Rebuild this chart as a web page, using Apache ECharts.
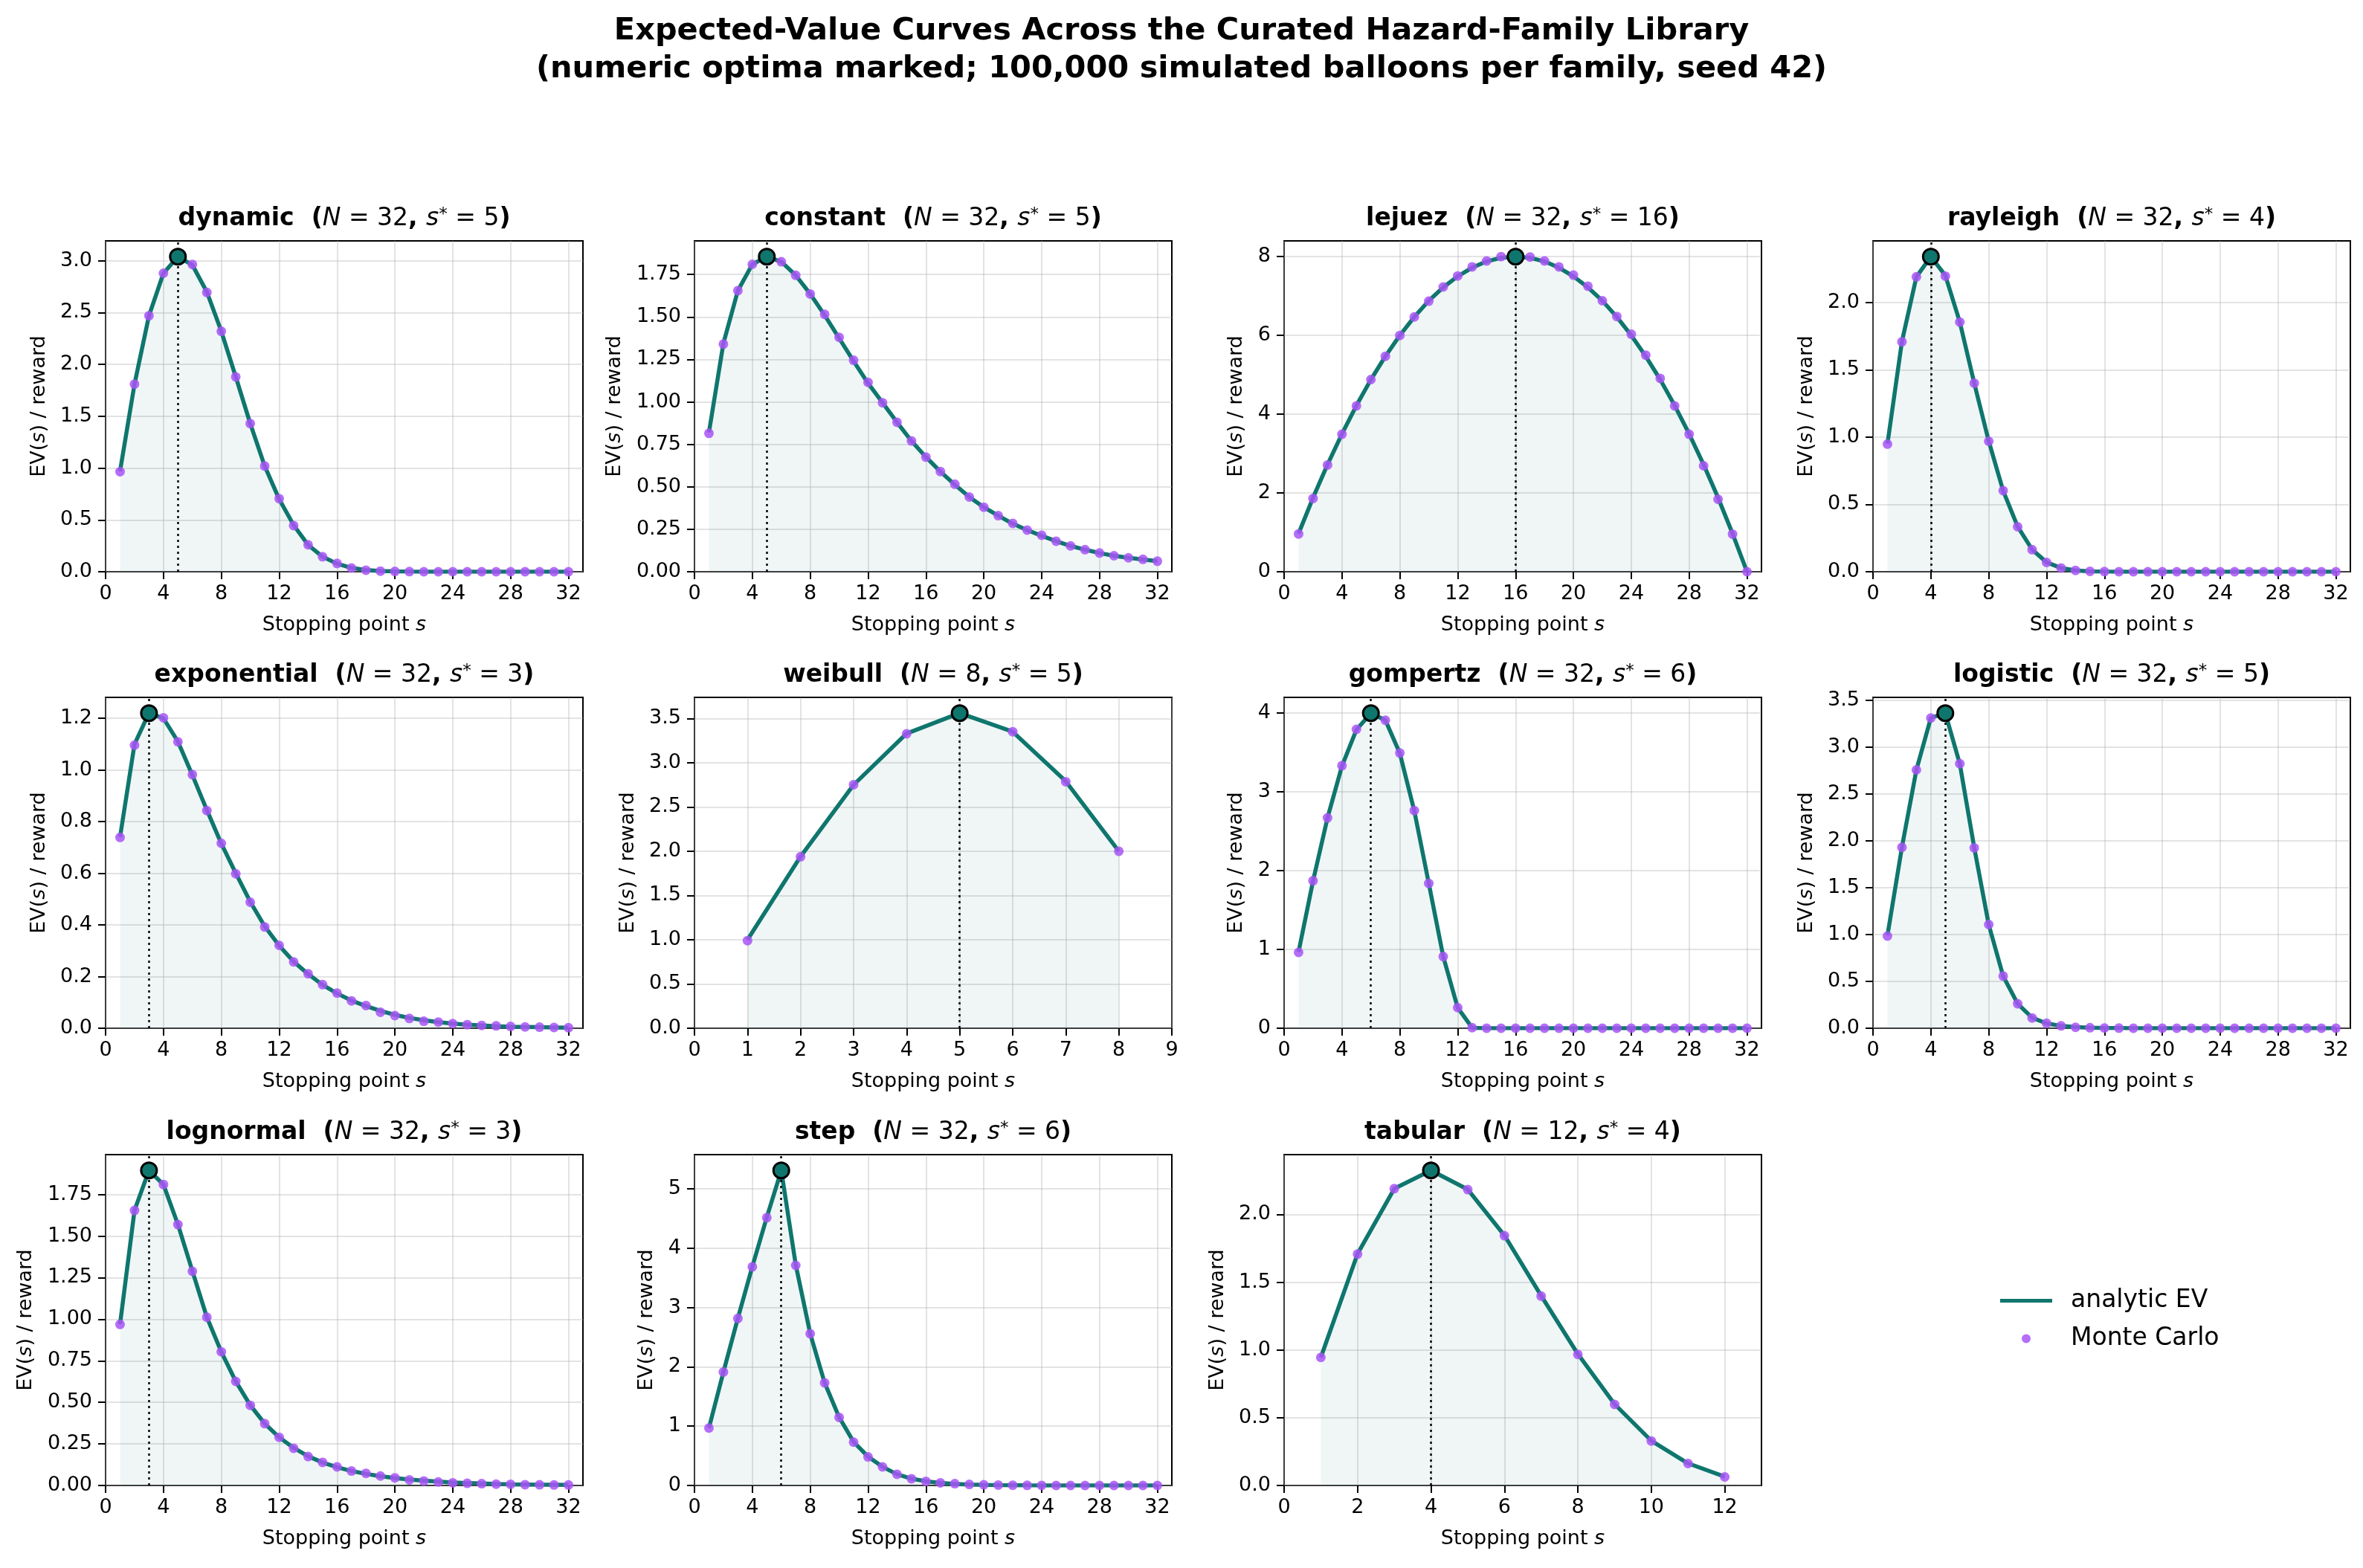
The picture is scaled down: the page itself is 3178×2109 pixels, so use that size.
<!DOCTYPE html>
<html>
<head>
<meta charset="utf-8">
<script src="https://cdn.jsdelivr.net/npm/echarts@6/dist/echarts.min.js"></script>
<style>
  html, body { margin: 0; padding: 0; background: #fff; }
  #chart { width: 3178px; height: 2109px; }
</style>
</head>
<body>
<div id="chart"></div>
<script>
// families, N and numeric optimum s*
const families = ['dynamic', 'constant', 'lejuez', 'rayleigh', 'exponential', 'weibull', 'gompertz', 'logistic', 'lognormal', 'step', 'tabular'];
const balloonN = [32, 32, 32, 32, 32, 8, 32, 32, 32, 32, 12];
const optimumS = [5, 5, 16, 4, 3, 5, 6, 5, 3, 6, 4];

// analytic EV(s) for s = 1..N
const dynamicEV = [0.97, 1.81, 2.47, 2.88, 3.04, 2.96, 2.70, 2.32, 1.88, 1.43, 1.02, 0.70, 0.45, 0.26, 0.145, 0.078, 0.037, 0.016, 0.007, 0.003, 0.001, 0, 0, 0, 0, 0, 0, 0, 0, 0, 0, 0];
const constantEV = [0.82, 1.345, 1.655, 1.81, 1.855, 1.825, 1.745, 1.636, 1.51, 1.375, 1.24, 1.11, 0.995, 0.88, 0.77, 0.675, 0.59, 0.512, 0.44, 0.38, 0.33, 0.283, 0.245, 0.212, 0.18, 0.152, 0.13, 0.11, 0.094, 0.082, 0.072, 0.062];
const lejuezEV = [0.97, 1.88, 2.72, 3.5, 4.22, 4.88, 5.47, 6.0, 6.47, 6.88, 7.22, 7.5, 7.72, 7.88, 7.97, 8.0, 7.97, 7.88, 7.72, 7.5, 7.22, 6.88, 6.47, 6.0, 5.47, 4.88, 4.22, 3.5, 2.72, 1.88, 0.97, 0];
const rayleighEV = [0.95, 1.71, 2.19, 2.34, 2.20, 1.855, 1.40, 0.97, 0.60, 0.335, 0.165, 0.07, 0.028, 0.01, 0.003, 0.001, 0, 0, 0, 0, 0, 0, 0, 0, 0, 0, 0, 0, 0, 0, 0, 0];
const exponentialEV = [0.74, 1.10, 1.22, 1.20, 1.11, 0.98, 0.845, 0.715, 0.60, 0.49, 0.395, 0.32, 0.258, 0.21, 0.168, 0.135, 0.107, 0.086, 0.067, 0.052, 0.04, 0.031, 0.024, 0.018, 0.014, 0.011, 0.008, 0.006, 0.005, 0.004, 0.003, 0.002];
const weibullEV = [1.0, 1.94, 2.75, 3.33, 3.56, 3.35, 2.79, 2.0];
const gompertzEV = [0.97, 1.87, 2.67, 3.33, 3.79, 4.0, 3.91, 3.49, 2.76, 1.84, 0.91, 0.26, 0.005, 0, 0, 0, 0, 0, 0, 0, 0, 0, 0, 0, 0, 0, 0, 0, 0, 0, 0, 0];
const logisticEV = [0.99, 1.93, 2.755, 3.31, 3.36, 2.82, 1.925, 1.105, 0.555, 0.262, 0.112, 0.052, 0.025, 0.011, 0.005, 0.002, 0.001, 0, 0, 0, 0, 0, 0, 0, 0, 0, 0, 0, 0, 0, 0, 0];
const lognormalEV = [0.97, 1.655, 1.895, 1.81, 1.57, 1.29, 1.012, 0.804, 0.626, 0.483, 0.372, 0.29, 0.226, 0.176, 0.138, 0.11, 0.087, 0.07, 0.056, 0.045, 0.036, 0.029, 0.023, 0.018, 0.015, 0.012, 0.009, 0.007, 0.006, 0.005, 0.004, 0.003];
const stepEV = [0.97, 1.91, 2.82, 3.69, 4.52, 5.31, 3.72, 2.56, 1.73, 1.15, 0.735, 0.485, 0.315, 0.19, 0.115, 0.07, 0.043, 0.026, 0.016, 0.01, 0.006, 0.004, 0.002, 0.001, 0, 0, 0, 0, 0, 0, 0, 0];
const tabularEV = [0.945, 1.71, 2.19, 2.325, 2.185, 1.845, 1.40, 0.97, 0.60, 0.33, 0.163, 0.065];

// Monte Carlo estimates (100,000 balloons per family)
const dynamicMC = [0.965, 1.81, 2.47, 2.88, 3.03, 2.965, 2.695, 2.32, 1.88, 1.43, 1.02, 0.705, 0.445, 0.26, 0.145, 0.08, 0.036, 0.015, 0.006, 0.003, 0.001, 0, 0, 0, 0, 0, 0, 0, 0, 0, 0, 0];
const constantMC = [0.815, 1.34, 1.655, 1.81, 1.85, 1.825, 1.745, 1.635, 1.515, 1.38, 1.245, 1.115, 0.995, 0.88, 0.77, 0.675, 0.59, 0.515, 0.44, 0.38, 0.33, 0.285, 0.245, 0.215, 0.18, 0.152, 0.13, 0.11, 0.094, 0.082, 0.073, 0.062];
const lejuezMC = [0.96, 1.86, 2.71, 3.49, 4.21, 4.88, 5.47, 6.0, 6.47, 6.87, 7.23, 7.51, 7.74, 7.89, 8.0, 8.0, 7.99, 7.89, 7.74, 7.53, 7.25, 6.88, 6.48, 6.03, 5.5, 4.91, 4.21, 3.49, 2.69, 1.84, 0.955, 0];
const rayleighMC = [0.948, 1.708, 2.19, 2.34, 2.195, 1.854, 1.40, 0.969, 0.602, 0.334, 0.164, 0.069, 0.028, 0.01, 0.003, 0.001, 0, 0, 0, 0, 0, 0, 0, 0, 0, 0, 0, 0, 0, 0, 0, 0];
const exponentialMC = [0.739, 1.096, 1.22, 1.202, 1.109, 0.982, 0.843, 0.716, 0.598, 0.488, 0.392, 0.321, 0.257, 0.211, 0.169, 0.136, 0.106, 0.088, 0.062, 0.049, 0.038, 0.027, 0.024, 0.018, 0.014, 0.011, 0.009, 0.007, 0.005, 0.004, 0.003, 0.002];
const weibullMC = [0.99, 1.938, 2.752, 3.327, 3.556, 3.35, 2.785, 2.0];
const gompertzMC = [0.963, 1.873, 2.67, 3.333, 3.794, 4.0, 3.91, 3.494, 2.764, 1.839, 0.91, 0.262, 0.007, 0, 0, 0, 0, 0, 0, 0, 0, 0, 0, 0, 0, 0, 0, 0, 0, 0, 0, 0];
const logisticMC = [0.983, 1.929, 2.755, 3.308, 3.355, 2.821, 1.923, 1.106, 0.556, 0.261, 0.11, 0.053, 0.025, 0.01, 0.005, 0.002, 0.001, 0, 0, 0, 0, 0, 0, 0, 0, 0, 0, 0, 0, 0, 0, 0];
const lognormalMC = [0.969, 1.654, 1.894, 1.81, 1.569, 1.288, 1.012, 0.804, 0.626, 0.482, 0.372, 0.29, 0.224, 0.174, 0.139, 0.112, 0.087, 0.073, 0.057, 0.046, 0.034, 0.027, 0.021, 0.016, 0.013, 0.011, 0.008, 0.007, 0.005, 0.004, 0.003, 0.003];
const stepMC = [0.968, 1.912, 2.815, 3.684, 4.513, 5.308, 3.709, 2.557, 1.728, 1.147, 0.73, 0.482, 0.313, 0.189, 0.114, 0.07, 0.045, 0.03, 0.018, 0.011, 0.007, 0.004, 0.002, 0.001, 0, 0, 0, 0, 0, 0, 0, 0];
const tabularMC = [0.945, 1.707, 2.19, 2.323, 2.183, 1.843, 1.397, 0.967, 0.598, 0.328, 0.162, 0.063];

// tick steps
const xStep = [4, 4, 4, 4, 4, 1, 4, 4, 4, 4, 2];
const yStep = [0.5, 0.25, 2, 0.5, 0.2, 0.5, 1, 0.5, 0.25, 1, 0.5];
const yDecimals = [1, 2, 0, 1, 1, 1, 0, 1, 2, 0, 1];

const evList = [dynamicEV, constantEV, lejuezEV, rayleighEV, exponentialEV, weibullEV, gompertzEV, logisticEV, lognormalEV, stepEV, tabularEV];
const mcList = [dynamicMC, constantMC, lejuezMC, rayleighMC, exponentialMC, weibullMC, gompertzMC, logisticMC, lognormalMC, stepMC, tabularMC];

const TEAL = '#0f766e';
const PURPLE = '#a855f7';
const FONT = 'DejaVu Sans';

const colLeft = [142, 934, 1727, 2519];
const rowTop = [324, 938, 1553];
const gridW = 642;
const gridH = 445;

function tickValues(max, step) {
  const out = [];
  for (let k = 0; k * step <= max + 1e-9; k++) out.push(+(k * step).toFixed(4));
  return out;
}

const grids = [], xAxes = [], yAxes = [], series = [], graphics = [];

families.forEach((name, i) => {
  const col = i % 4, row = Math.floor(i / 4);
  const N = balloonN[i], sStar = optimumS[i];
  const ev = evList[i], mc = mcList[i];
  const yMax = 1.05 * Math.max(...ev, ...mc);
  const xTicks = tickValues(N + 1, xStep[i]);
  const yTicks = tickValues(yMax, yStep[i]);
  const labelLen = Math.max(...yTicks.map(v => v.toFixed(yDecimals[i]).length));
  const yGap = labelLen === 1 ? 51 : (labelLen === 3 ? 76 : 94);

  grids.push({
    left: colLeft[col], top: rowTop[row], width: gridW, height: gridH,
    show: true, borderColor: '#000', borderWidth: 2, backgroundColor: 'transparent'
  });

  xAxes.push({
    type: 'value', gridIndex: i, min: 0, max: N + 1, interval: xStep[i],
    name: 'Stopping point {it|s}', nameLocation: 'middle', nameGap: 58,
    nameTextStyle: { fontSize: 27, fontFamily: FONT, color: '#000',
      rich: { it: { fontStyle: 'italic', fontSize: 27, fontFamily: FONT, color: '#000' } } },
    axisLine: { show: false },
    axisTick: { show: true, length: 10, customValues: xTicks, lineStyle: { color: '#000', width: 2 } },
    axisLabel: { customValues: xTicks, fontSize: 27, fontFamily: FONT, color: '#000', margin: 16 },
    splitLine: { show: true, lineStyle: { color: 'rgba(176,176,176,0.35)', width: 2 } }
  });

  yAxes.push({
    type: 'value', gridIndex: i, min: 0, max: yMax, interval: yStep[i],
    name: 'EV({it|s}) / reward', nameLocation: 'middle', nameRotate: 90, nameGap: yGap,
    nameTextStyle: { fontSize: 27, fontFamily: FONT, color: '#000',
      rich: { it: { fontStyle: 'italic', fontSize: 27, fontFamily: FONT, color: '#000' } } },
    axisLine: { show: false },
    axisTick: { show: true, length: 10, customValues: yTicks, lineStyle: { color: '#000', width: 2 } },
    axisLabel: { customValues: yTicks, fontSize: 27, fontFamily: FONT, color: '#000', margin: 18,
      formatter: v => Number(v).toFixed(yDecimals[i]) },
    splitLine: { show: true, lineStyle: { color: 'rgba(176,176,176,0.35)', width: 2 } }
  });

  // analytic curve + shaded area + s* marker line
  series.push({
    name: 'analytic EV', type: 'line', xAxisIndex: i, yAxisIndex: i,
    data: ev.map((v, k) => [k + 1, v]),
    symbol: 'none', z: 2,
    itemStyle: { color: TEAL },
    lineStyle: { color: TEAL, width: 5.5 },
    areaStyle: { color: 'rgba(15,118,110,0.09)' },
    markLine: {
      silent: true, symbol: 'none', label: { show: false },
      lineStyle: { color: '#000', width: 2.5, type: [3, 5] },
      data: [{ xAxis: sStar }]
    }
  });

  // Monte Carlo dots
  series.push({
    name: 'Monte Carlo', type: 'scatter', xAxisIndex: i, yAxisIndex: i,
    data: mc.map((v, k) => [k + 1, v]),
    symbolSize: 13, z: 3,
    itemStyle: { color: PURPLE, opacity: 0.85 }
  });

  // numeric optimum
  series.push({
    name: 'optimum', type: 'scatter', xAxisIndex: i, yAxisIndex: i,
    data: [[sStar, ev[sStar - 1]]],
    symbolSize: 21, z: 5,
    itemStyle: { color: TEAL, borderColor: '#000', borderWidth: 3, opacity: 1 }
  });

  graphics.push({
    type: 'text', x: colLeft[col] + gridW / 2, y: rowTop[row] - 30,
    style: {
      text: `{b|${name}  (}{i|N}{r| = ${N}}{b|, }{i|s}{sup|*}{r| = ${sStar}}{b|)}`,
      align: 'center', verticalAlign: 'middle',
      rich: {
        b: { fontSize: 33, fontWeight: 'bold', fontFamily: FONT, fill: '#000' },
        i: { fontSize: 33, fontStyle: 'italic', fontFamily: FONT, fill: '#000' },
        r: { fontSize: 33, fontFamily: FONT, fill: '#000' },
        sup: { fontSize: 23, fontFamily: FONT, fill: '#000', verticalAlign: 'top' }
      }
    }
  });
});

const chart = echarts.init(document.getElementById('chart'));
chart.setOption({
  animation: false,
  backgroundColor: '#fff',
  title: {
    text: 'Expected-Value Curves Across the Curated Hazard-Family Library\n(numeric optima marked; 100,000 simulated balloons per family, seed 42)',
    left: 'center', top: 12,
    textStyle: { fontSize: 41.5, fontWeight: 'bold', fontFamily: FONT, color: '#000', lineHeight: 51 }
  },
  legend: [
    {
      data: [{ name: 'analytic EV', icon: 'path://M0,0H70V5H0Z' }],
      left: 2690, top: 1733, padding: 0,
      itemWidth: 70, itemHeight: 12,
      textStyle: { fontSize: 33, fontFamily: FONT, color: '#000', padding: [0, 0, 0, 20] }
    },
    {
      data: [{ name: 'Monte Carlo', icon: 'circle' }],
      left: 2719, top: 1784, padding: 0,
      itemWidth: 70, itemHeight: 12,
      textStyle: { fontSize: 33, fontFamily: FONT, color: '#000', padding: [0, 0, 0, 20] }
    }
  ],
  grid: grids,
  xAxis: xAxes,
  yAxis: yAxes,
  series: series,
  graphic: graphics
});
</script>
</body>
</html>
